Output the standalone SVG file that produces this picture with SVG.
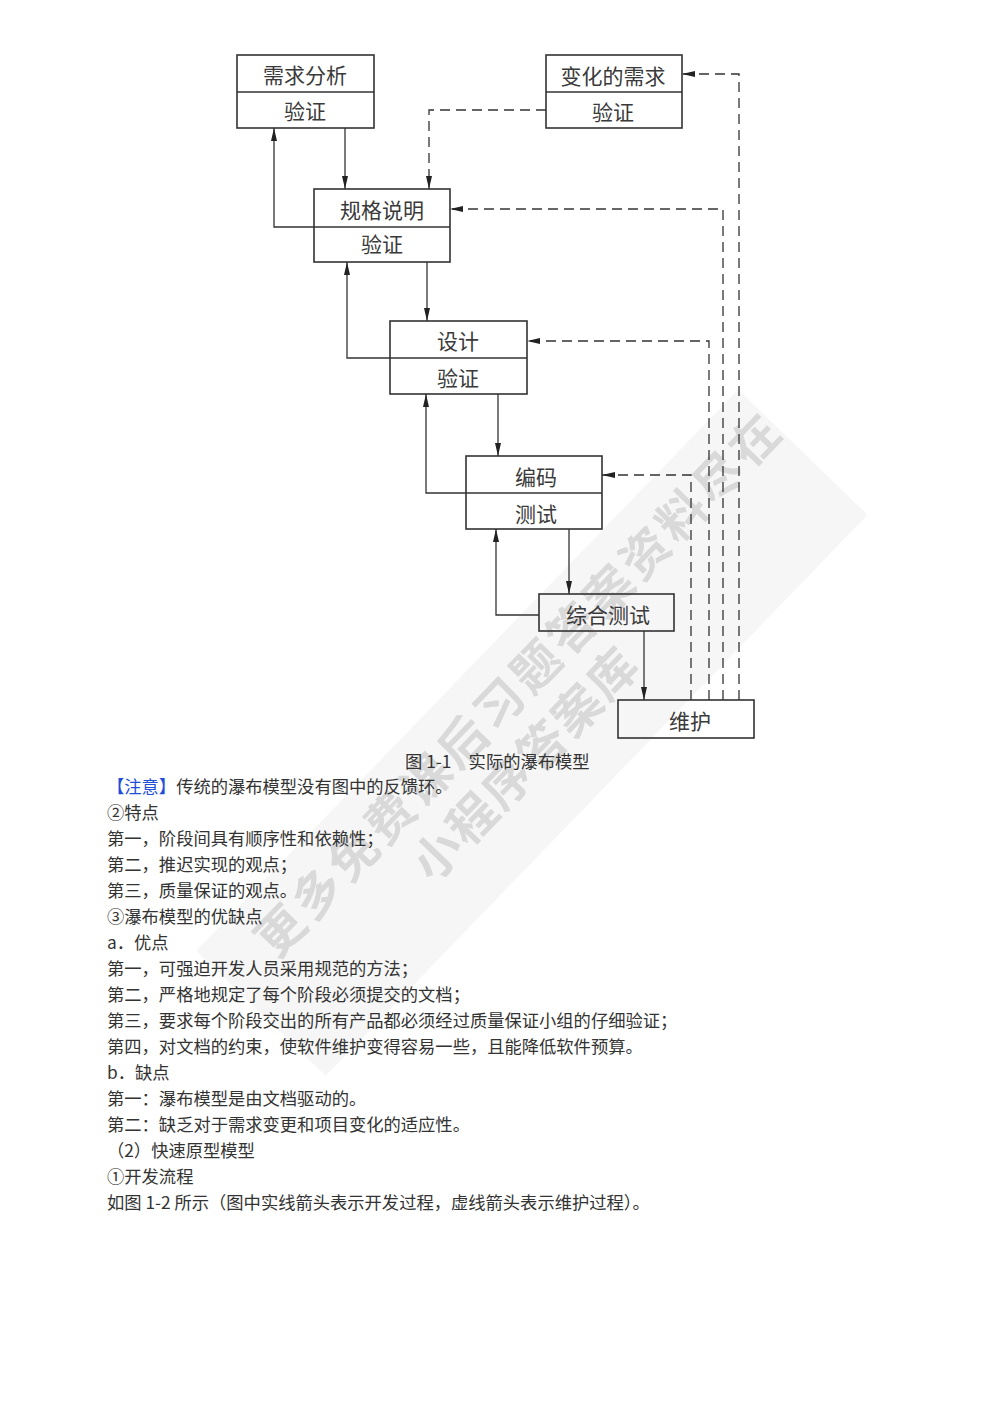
<svg xmlns="http://www.w3.org/2000/svg" width="992" height="1403" viewBox="0 0 992 1403">
<defs>
<marker id="ah" markerWidth="14" markerHeight="8" refX="13" refY="4" orient="auto" markerUnits="userSpaceOnUse">
<path d="M0,1 L13,4 L0,7 Z" fill="#222"/>
</marker>
<style>
.box{fill:none;stroke:#333;stroke-width:1.6}
.div{stroke:#333;stroke-width:1.4}
.lbl{font-family:"Noto Sans CJK SC","Noto Sans",sans-serif;font-size:21px;fill:#3a3a3a;text-anchor:middle;dominant-baseline:central}
.sol{fill:none;stroke:#333;stroke-width:1.3}
.dsh{fill:none;stroke:#333;stroke-width:1.3;stroke-dasharray:10 6}
.body{font-family:"Noto Sans CJK SC","Liberation Serif",serif;font-size:17.3px;fill:#333}
.wm{font-family:"Noto Sans CJK SC",sans-serif;font-size:48px;font-weight:bold;fill:#d9d9d9;text-anchor:middle;dominant-baseline:central}
</style>
</defs>
<rect width="992" height="1403" fill="#fff"/>
<g id="watermark">
<rect x="145" y="650" width="780" height="180" fill="#f6f6f6" transform="rotate(-46 525 740)"/>
<text class="wm" x="515" y="683" textLength="730" lengthAdjust="spacing" transform="rotate(-46 515 683)">更多免费课后习题答案资料尽在</text>
<text class="wm" x="522" y="762" textLength="300" lengthAdjust="spacing" transform="rotate(-46 522 762)">小程序答案库</text>
</g>
<g id="n-xqfx">
<rect class="box" x="237" y="55" width="137" height="73"/>
<line class="div" x1="237" y1="92" x2="374" y2="92"/>
<text class="lbl" x="305" y="74">需求分析</text>
<text class="lbl" x="305" y="110">验证</text>
</g>
<g id="n-bhxq">
<rect class="box" x="546" y="55" width="136" height="73"/>
<line class="div" x1="546" y1="92" x2="682" y2="92"/>
<text class="lbl" x="613" y="75">变化的需求</text>
<text class="lbl" x="613" y="111">验证</text>
</g>
<g id="n-ggsm">
<rect class="box" x="314" y="189" width="136" height="73"/>
<line class="div" x1="314" y1="227" x2="450" y2="227"/>
<text class="lbl" x="382" y="209">规格说明</text>
<text class="lbl" x="382" y="243">验证</text>
</g>
<g id="n-sj">
<rect class="box" x="390" y="321" width="137" height="73"/>
<line class="div" x1="390" y1="358" x2="527" y2="358"/>
<text class="lbl" x="458" y="340">设计</text>
<text class="lbl" x="458" y="377">验证</text>
</g>
<g id="n-bm">
<rect class="box" x="466" y="456" width="136" height="73"/>
<line class="div" x1="466" y1="493" x2="602" y2="493"/>
<text class="lbl" x="536" y="476">编码</text>
<text class="lbl" x="536" y="513">测试</text>
</g>
<g id="n-zhcs">
<rect class="box" x="539" y="594" width="135" height="37"/>
<text class="lbl" x="608" y="614">综合测试</text>
</g>
<g id="n-wh">
<rect class="box" x="618" y="700" width="136" height="38"/>
<text class="lbl" x="690" y="720">维护</text>
</g>
<g id="connectors">
<path class="sol" d="M345,128 V189" marker-end="url(#ah)"/>
<path class="sol" d="M314,227 H274 V128" marker-end="url(#ah)"/>
<path class="sol" d="M427,262 V321" marker-end="url(#ah)"/>
<path class="sol" d="M390,358 H347 V262" marker-end="url(#ah)"/>
<path class="sol" d="M498,394 V456" marker-end="url(#ah)"/>
<path class="sol" d="M466,493 H426 V394" marker-end="url(#ah)"/>
<path class="sol" d="M569,529 V594" marker-end="url(#ah)"/>
<path class="sol" d="M539,615 H496 V529" marker-end="url(#ah)"/>
<path class="sol" d="M644,631 V700" marker-end="url(#ah)"/>
<path class="dsh" d="M546,110 H429 V189" marker-end="url(#ah)"/>
<path class="dsh" d="M739,700 V74 H682" marker-end="url(#ah)"/>
<path class="dsh" d="M723,700 V209 H450" marker-end="url(#ah)"/>
<path class="dsh" d="M709,700 V341 H527" marker-end="url(#ah)"/>
<path class="dsh" d="M691,700 V475 H602" marker-end="url(#ah)"/>
</g>
<g id="text">
<text class="body" x="405" y="768">图 1-1　实际的瀑布模型</text>
<text class="body" x="107" y="793"><tspan fill="#1f4fd8">【注意】</tspan>传统的瀑布模型没有图中的反馈环。</text>
<text class="body" x="107" y="819">②特点</text>
<text class="body" x="107" y="845">第一，阶段间具有顺序性和依赖性；</text>
<text class="body" x="107" y="871">第二，推迟实现的观点；</text>
<text class="body" x="107" y="897">第三，质量保证的观点。</text>
<text class="body" x="107" y="923">③瀑布模型的优缺点</text>
<text class="body" x="107" y="949">a．优点</text>
<text class="body" x="107" y="975">第一，可强迫开发人员采用规范的方法；</text>
<text class="body" x="107" y="1001">第二，严格地规定了每个阶段必须提交的文档；</text>
<text class="body" x="107" y="1027">第三，要求每个阶段交出的所有产品都必须经过质量保证小组的仔细验证；</text>
<text class="body" x="107" y="1053">第四，对文档的约束，使软件维护变得容易一些，且能降低软件预算。</text>
<text class="body" x="107" y="1079">b．缺点</text>
<text class="body" x="107" y="1105">第一：瀑布模型是由文档驱动的。</text>
<text class="body" x="107" y="1131">第二：缺乏对于需求变更和项目变化的适应性。</text>
<text class="body" x="107" y="1157">（2）快速原型模型</text>
<text class="body" x="107" y="1183">①开发流程</text>
<text class="body" x="107" y="1209">如图 1-2 所示（图中实线箭头表示开发过程，虚线箭头表示维护过程）。</text>
</g>
</svg>
